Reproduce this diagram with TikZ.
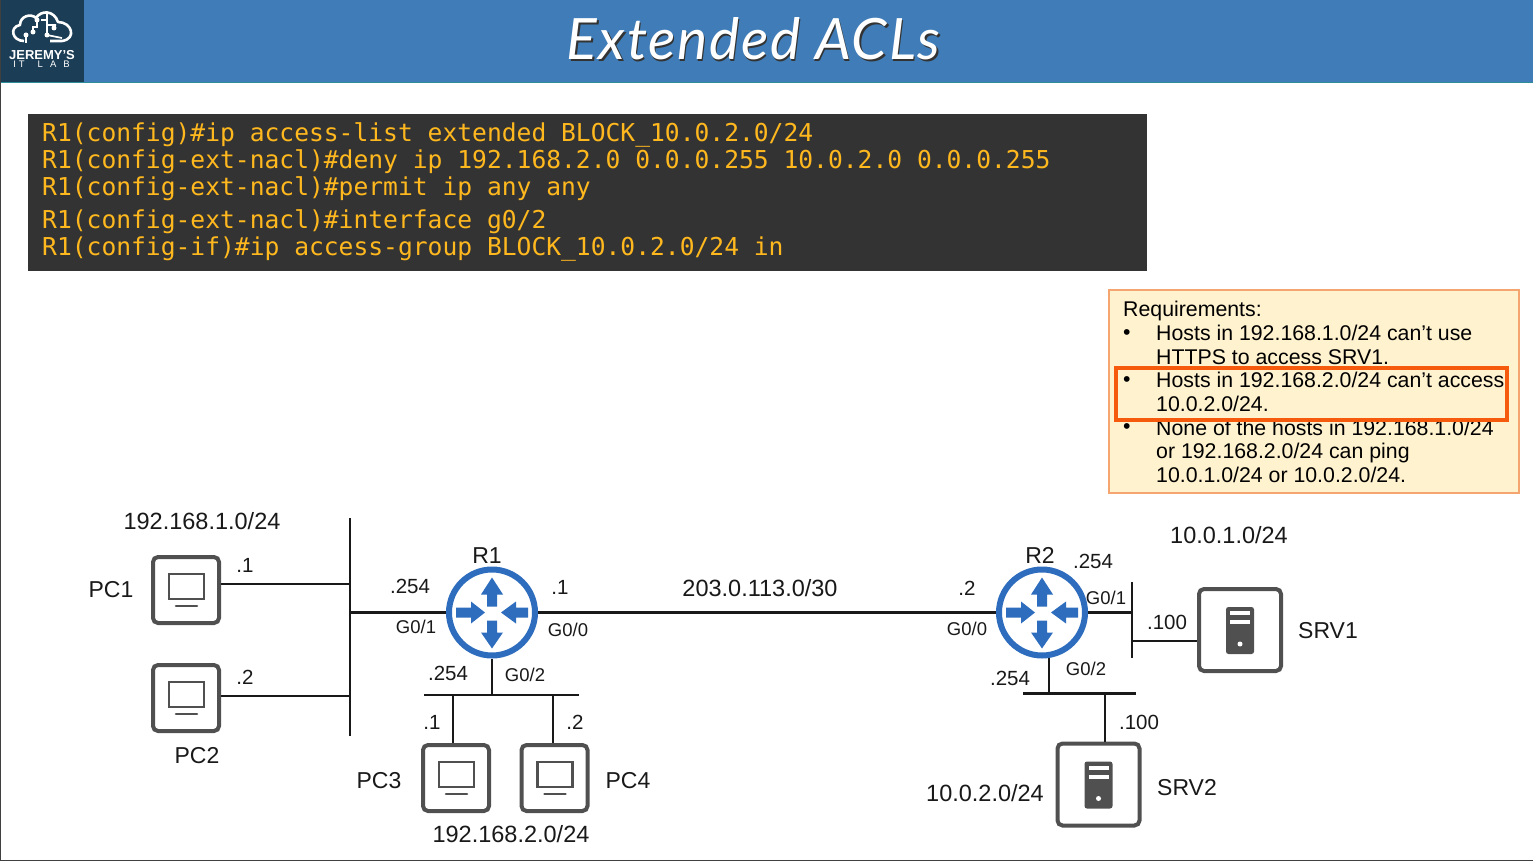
\documentclass[tikz,border=0pt]{standalone}
\usepackage{fontspec}
\setmainfont{Liberation Sans}
\newfontfamily\consolefont{DejaVu Sans Mono}
\newfontfamily\titlefont[LetterSpace=3.0]{Lato}
\definecolor{headblue}{HTML}{407DB8}
\definecolor{headline}{HTML}{2F8C99}
\definecolor{logoblue}{HTML}{1B3D55}
\definecolor{consolebg}{HTML}{333333}
\definecolor{consoletx}{HTML}{FFB81E}
\definecolor{reqfill}{HTML}{FFF2CF}
\definecolor{reqline}{HTML}{F5A670}
\definecolor{redbox}{HTML}{F65A0C}
\definecolor{routerblue}{HTML}{2E6DBE}
\definecolor{icongrey}{HTML}{505050}
\tikzset{
  wire/.style={line width=2.8pt,draw=black!90,line cap=butt},
  hostbox/.style={draw=icongrey,line width=4pt,rounded corners=5pt,fill=white,inner sep=0pt,minimum width=66pt,minimum height=66pt},
  srvbox/.style={draw=icongrey,line width=4pt,rounded corners=5pt,fill=white,inner sep=0pt,minimum width=82pt,minimum height=82pt},
  routernode/.style={circle,draw=routerblue,line width=6pt,fill=white,minimum size=86pt,inner sep=0pt},
  net/.style={anchor=base,inner sep=0pt,font=\fontsize{23.5}{23.5}\selectfont,text=black!90},
  hostname/.style={anchor=base,inner sep=0pt,font=\fontsize{23}{23}\selectfont,text=black!90},
  addr/.style={anchor=base,inner sep=0pt,font=\fontsize{20.5}{20.5}\selectfont,text=black!90},
  port/.style={anchor=base,inner sep=0pt,font=\fontsize{18.5}{18.5}\selectfont,text=black!90},
  req/.style={anchor=base west,inner sep=0pt,font=\fontsize{21.3}{21.3}\selectfont,text=black},
  cons/.style={anchor=base west,inner sep=0pt,font=\consolefont\fontsize{24.63}{24.63}\selectfont,text=consoletx},
  titletx/.style={inner sep=0pt,font=\titlefont\itshape\fontsize{57}{57}\selectfont},
  monitor/.pic={
    \draw[icongrey,line width=2.6pt] (-17,-16) rectangle (18,9);
    \draw[icongrey,line width=2.6pt,line cap=round] (-10,16) -- (11,16);
  },
  tower/.pic={
    \fill[icongrey,rounded corners=2.5pt] (-14,-23) rectangle (14,24);
    \fill[white] (-10,-19) rectangle (10,-15);
    \fill[white] (-10,-10) rectangle (10,-6);
    \fill[white] (0,14) circle (2.5);
  },
  arrows4/.pic={
    \fill[routerblue] (-5,-6) -- (-5,-18) -- (-11,-18) -- (0,-35) -- (11,-18) -- (5,-18) -- (5,-6) -- cycle;
    \fill[routerblue] (-5,8) -- (-5,20) -- (-11,20) -- (0,36) -- (11,20) -- (5,20) -- (5,8) -- cycle;
    \fill[routerblue] (-36,-5) -- (-21,-5) -- (-21,-11) -- (-7,0) -- (-21,11) -- (-21,5) -- (-36,5) -- cycle;
    \fill[routerblue] (36,-5) -- (24,-5) -- (24,-11) -- (9,0) -- (24,11) -- (24,5) -- (36,5) -- cycle;
  },
}
\begin{document}
\begin{tikzpicture}[x=1pt,y=-1pt]
\useasboundingbox (0,0) rectangle (1533,861);
\fill[white] (0,0) rectangle (1533,861);
% header
\fill[headblue] (0,0) rectangle (1533,82);
\fill[headline] (0,82) rectangle (1533,83);
\fill[logoblue] (0,0) rectangle (84,82);
\draw[black!75,line width=1pt] (0.5,0) -- (0.5,861) (0,860.5) -- (1533,860.5);
% logo
\draw[white,line width=2.6pt,line join=round]
  (24,41) .. controls (12,41) and (9,27) .. (20,25)
  .. controls (20,16) and (31,13) .. (36,18)
  .. controls (41,10) and (54,10) .. (58,22)
  .. controls (72,22) and (77,39) .. (62,41) -- (50,41);
\draw[white,line width=1.7pt] (26,43) -- (26,35) (33,32) -- (33,27) -- (37,27) -- (37,20)
  (47,14) -- (47,35) -- (62,38) (47,25) -- (56,25) (41,20) -- (47,20);
\fill[white] (26,35) circle (2.5) (33,32) circle (2.5) (37,20) circle (2.5) (47,35) circle (2.5) (54,28) circle (2.5);
\node[name=logoa,inner sep=0pt,text=white,font=\bfseries\fontsize{13}{13}\selectfont] at (42,55) {JEREMY'S};
\node[name=logob,inner sep=0pt,text=white,font=\fontsize{9.5}{9.5}\selectfont] at (41.5,64.5) {I\hspace{3pt}T\hspace{13pt}L\hspace{7pt}A\hspace{7pt}B};
% title
\node[titletx,text=black!80,name=titleshadow] at (755,40.5) {Extended ACLs};
\node[titletx,text=white,name=titletext] at (753.5,39) {Extended ACLs};
% console
\fill[consolebg] (28,114) rectangle (1147,271);
\node[cons,name=c1] at (42,142) {R1(config)\#ip access-list extended BLOCK\_10.0.2.0/24};
\node[cons,name=c2] at (42,169) {R1(config-ext-nacl)\#deny ip 192.168.2.0 0.0.0.255 10.0.2.0 0.0.0.255};
\node[cons,name=c3] at (42,196) {R1(config-ext-nacl)\#permit ip any any};
\node[cons,name=c4] at (42,228) {R1(config-ext-nacl)\#interface g0/2};
\node[cons,name=c5] at (42,255) {R1(config-if)\#ip access-group BLOCK\_10.0.2.0/24 in};
% requirements
\draw[reqline,fill=reqfill,line width=1.2pt] (1109,290) rectangle (1519,493);
\node[req,name=r0] at (1123,316) {Requirements:};
\node[req,name=b1] at (1123,339) {•};
\node[req,name=r1] at (1156,340) {Hosts in 192.168.1.0/24 can’t use};
\node[req,name=r2] at (1156,364) {HTTPS to access SRV1.};
\node[req,name=b2] at (1123,386) {•};
\node[req,name=r3] at (1156,387) {Hosts in 192.168.2.0/24 can’t access};
\node[req,name=r4] at (1156,411) {10.0.2.0/24.};
\node[req,name=b3] at (1123,433) {•};
\node[req,name=r5] at (1156,435) {None of the hosts in 192.168.1.0/24};
\node[req,name=r6] at (1156,458) {or 192.168.2.0/24 can ping};
\node[req,name=r7] at (1156,482) {10.0.1.0/24 or 10.0.2.0/24.};
\node[name=redrect,draw=redbox,line width=3.2pt,inner sep=0pt,minimum width=391pt,minimum height=52pt] at (1311.5,394) {};
% buses
\coordinate (bus1a) at (350,518); \coordinate (bus1b) at (350,736);
\coordinate (bus2a) at (424,695); \coordinate (bus2b) at (579,695);
\coordinate (bus3a) at (1132,582); \coordinate (bus3b) at (1132,658);
\coordinate (bus4a) at (1023,693.5); \coordinate (bus4b) at (1136,693.5);
\draw[wire] (bus1a) -- (bus1b);
\draw[wire] (bus2a) -- (bus2b);
\draw[wire] (bus3a) -- (bus3b);
\draw[wire] (bus4a) -- (bus4b);
% devices
\node[hostbox,name=pc1] at (186,590) {};
\node[hostbox,name=pc2] at (186,698) {};
\node[hostbox,name=pc3] at (456,778) {};
\node[hostbox,name=pc4] at (554.5,778) {};
\node[srvbox,name=srv1] at (1240,630) {};
\node[srvbox,name=srv2] at (1098.5,784.5) {};
\node[routernode,name=r1dev] at (492,612.5) {};
\node[routernode,name=r2dev] at (1042,612.5) {};
\pic at (r1dev) {arrows4};
\pic at (r2dev) {arrows4};
\pic at (pc1) {monitor};
\pic at (pc2) {monitor};
\pic at (pc3) {monitor};
\pic at (pc4) {monitor};
\pic at (srv1) {tower};
\pic at (srv2) {tower};
% connectors
\coordinate (p1) at (221,584);
\coordinate (p2) at (221,696);
\coordinate (p3) at (453,743);
\coordinate (p4) at (553,743);
\coordinate (s1) at (1197,641);
\coordinate (s2) at (1105,742);
\coordinate (r1d) at (492,659);
\coordinate (r2d) at (1049,658);
\draw[wire] (p1) -- (p1 -| bus1a);
\draw[wire] (p2) -- (p2 -| bus1a);
\draw[wire] (bus1a |- r1dev) -- (r1dev.west);
\draw[wire] (r1dev.east) -- (r2dev.west);
\draw[wire] (r2dev.east) -- (bus3a |- r2dev);
\draw[wire] (r1d) -- (r1d |- bus2a);
\draw[wire] (p3) -- (p3 |- bus2a);
\draw[wire] (p4) -- (p4 |- bus2a);
\draw[wire] (r2d) -- (r2d |- bus4a);
\draw[wire] (s2) -- (s2 |- bus4a);
\draw[wire] (s1) -- (s1 -| bus3a);
% labels
\node[net,name=l01] at (202,529) {192.168.1.0/24};
\node[hostname,name=l02] at (111,597) {PC1};
\node[addr,name=l03] at (245,572) {.1};
\node[hostname,name=l04] at (197,763) {PC2};
\node[addr,name=l05] at (245,684) {.2};
\node[addr,name=l06] at (410,593) {.254};
\node[port,name=l07] at (416,633) {G0/1};
\node[hostname,name=l08] at (487,563) {R1};
\node[addr,name=l09] at (560,594) {.1};
\node[port,name=l10] at (568,636) {G0/0};
\node[addr,name=l11] at (448,680) {.254};
\node[port,name=l12] at (525,681) {G0/2};
\node[addr,name=l13] at (432,729) {.1};
\node[addr,name=l14] at (575,729) {.2};
\node[hostname,name=l15] at (379,788) {PC3};
\node[hostname,name=l16] at (628,788) {PC4};
\node[net,name=l17] at (511,842) {192.168.2.0/24};
\node[net,name=l18] at (760,596) {203.0.113.0/30};
\node[addr,name=l19] at (967,595) {.2};
\node[port,name=l20] at (967,635) {G0/0};
\node[hostname,name=l21] at (1040,563) {R2};
\node[addr,name=l22] at (1093,568) {.254};
\node[port,name=l23] at (1106,604) {G0/1};
\node[net,name=l24] at (1229,543) {10.0.1.0/24};
\node[addr,name=l25] at (1167,629) {.100};
\node[hostname,name=l26] at (1328,638) {SRV1};
\node[addr,name=l27] at (1010,685) {.254};
\node[port,name=l28] at (1086,675) {G0/2};
\node[addr,name=l29] at (1139,729) {.100};
\node[net,name=l30] at (985,801) {10.0.2.0/24};
\node[hostname,name=l31] at (1187,795) {SRV2};
\end{tikzpicture}
\end{document}
